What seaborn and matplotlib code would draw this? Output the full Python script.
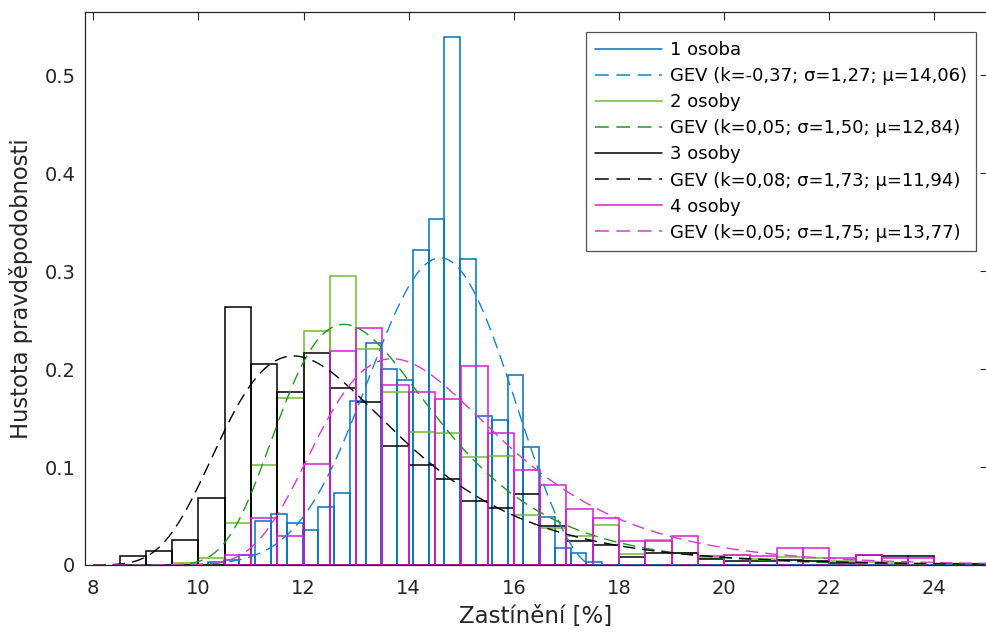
import numpy as np
import pandas as pd
import matplotlib
matplotlib.use("Agg")
import matplotlib.pyplot as plt
from matplotlib.lines import Line2D
import seaborn as sns

# ---- histogram data (pdf-normalised densities) ----
# 1 osoba: bins of width 0.3 starting at 10.18
edges_1 = np.round(np.arange(10.18, 17.69, 0.3), 2)
dens_1 = [0.0034, 0.005, 0.010, 0.045, 0.0517, 0.0425, 0.0357, 0.0595, 0.0738,
          0.1677, 0.2262, 0.1997, 0.1888, 0.3214, 0.3527, 0.5385, 0.3127, 0.152,
          0.148, 0.1935, 0.1206, 0.049, 0.0177, 0.0126, 0.003]

# 2 osoby: bins of width 0.5 starting at 9.5
edges_2 = np.arange(9.5, 23.51, 0.5)
dens_2 = [0.002, 0.0075, 0.0425, 0.102, 0.170, 0.2388, 0.2946, 0.2204, 0.1762,
          0.136, 0.1344, 0.1097, 0.1108, 0.0506, 0.038, 0.030, 0.041, 0.011,
          0.026, 0.012, 0.007, 0.010, 0.006, 0.008, 0.007, 0.004, 0.003, 0.002]

# 3 osoby: bins of width 0.5 starting at 8.5
edges_3 = np.arange(8.5, 25.01, 0.5)
dens_3 = [0.0095, 0.0146, 0.026, 0.0687, 0.263, 0.205, 0.1765, 0.216, 0.181,
          0.166, 0.1218, 0.1024, 0.088, 0.065, 0.058, 0.072, 0.040, 0.025,
          0.020, 0.008, 0.012, 0.012, 0.006, 0.004, 0.004, 0.005, 0.004, 0.002,
          0.0105, 0.0092, 0.0092, 0.001, 0.001]

# 4 osoby: bins of width 0.5 starting at 10.5
edges_4 = np.arange(10.5, 25.01, 0.5)
dens_4 = [0.010, 0.0476, 0.0296, 0.1027, 0.2187, 0.2415, 0.1837, 0.1769, 0.1694,
          0.2027, 0.1345, 0.097, 0.0816, 0.0568, 0.0483, 0.0248, 0.0248, 0.030,
          0.0088, 0.0107, 0.009, 0.0177, 0.0177, 0.007, 0.010, 0.007, 0.007,
          0.001, 0.001]

# fitted GEV parameters (k, sigma, mu)
gev_params = [(-0.37, 1.27, 14.06), (0.05, 1.50, 12.84),
              (0.08, 1.73, 11.94), (0.05, 1.75, 13.77)]

hist_labels = ["1 osoba", "2 osoby", "3 osoby", "4 osoby"]
hist_colors = ["#0072BD", "#72BA2C", "#000000", "#D41ED4"]
gev_colors = ["#1584CC", "#1E9A1E", "#000000", "#D43AD4"]

x_ticks = [8, 10, 12, 14, 16, 18, 20, 22, 24]
y_ticks = [0, 0.1, 0.2, 0.3, 0.4, 0.5]
y_tick_labels = ["0", "0.1", "0.2", "0.3", "0.4", "0.5"]


def gev_pdf(x, k, sigma, mu):
    t = 1.0 + k * (x - mu) / sigma
    out = np.zeros_like(x)
    ok = t > 0
    tv = t[ok]
    out[ok] = (1.0 / sigma) * tv ** (-1.0 / k - 1.0) * np.exp(-tv ** (-1.0 / k))
    return out


sns.set_style("white")
plt.rcParams["font.family"] = ["DejaVu Sans"]
plt.rcParams["axes.edgecolor"] = "#262626"
plt.rcParams["xtick.color"] = "#262626"
plt.rcParams["ytick.color"] = "#262626"

fig = plt.figure(figsize=(9.86, 6.34), dpi=100)
ax = fig.add_axes([85 / 986, 69 / 634, 902 / 986, 553 / 634])

DASH = [9, 5]
xg = np.linspace(8, 25, 800)
series = [(edges_1, dens_1), (edges_2, dens_2), (edges_3, dens_3), (edges_4, dens_4)]
handles = []
labels = []
for i, (edges, dens) in enumerate(series):
    edges = np.asarray(edges, dtype=float)
    centers = (edges[:-1] + edges[1:]) / 2
    df = pd.DataFrame({"x": centers, "w": dens})
    sns.histplot(data=df, x="x", weights="w", bins=edges.tolist(), stat="count",
                 element="bars", fill=False, color=hist_colors[i],
                 edgecolor=hist_colors[i], linewidth=1.1, ax=ax)
    k, s, m = gev_params[i]
    sns.lineplot(x=xg, y=gev_pdf(xg, k, s, m), color=gev_colors[i],
                 linewidth=1.0, ax=ax)
    ax.lines[-1].set_dashes(DASH)
    handles.append(Line2D([], [], color=hist_colors[i], lw=1.1))
    labels.append(hist_labels[i])
    handles.append(Line2D([], [], color=gev_colors[i], lw=1.1, dashes=DASH))
    labels.append(f"GEV (k={k:.2f}; σ={s:.2f}; μ={m:.2f})".replace(".", ","))

ax.set_xlim(7.842, 25.0)
ax.set_ylim(0, 0.5643)
ax.set_xticks(x_ticks)
ax.set_xticklabels([str(v) for v in x_ticks])
ax.set_yticks(y_ticks)
ax.set_yticklabels(y_tick_labels)
ax.tick_params(direction="in", length=5.4, width=0.8, top=True, right=True,
               labelsize=14)
ax.tick_params(axis="y", pad=7)
ax.tick_params(axis="x", pad=10)
for sp in ax.spines.values():
    sp.set_linewidth(0.9)
    sp.set_visible(True)

ax.set_xlabel("Zastínění [%]", fontsize=16.5, color="#262626", labelpad=5)
ax.set_ylabel("Hustota pravděpodobnosti", fontsize=16.3, color="#262626", labelpad=8)

leg = ax.legend(handles, labels, loc="upper right", bbox_to_anchor=(0.988, 0.964),
                borderaxespad=0, fontsize=13, handlelength=3.7, handletextpad=0.45,
                labelspacing=0.45, borderpad=0.5, frameon=True, fancybox=False)
leg.get_frame().set_edgecolor("#262626")
leg.get_frame().set_linewidth(0.9)
for t in leg.get_texts():
    t.set_color("#000000")

fig.savefig("out.png", dpi=100)
